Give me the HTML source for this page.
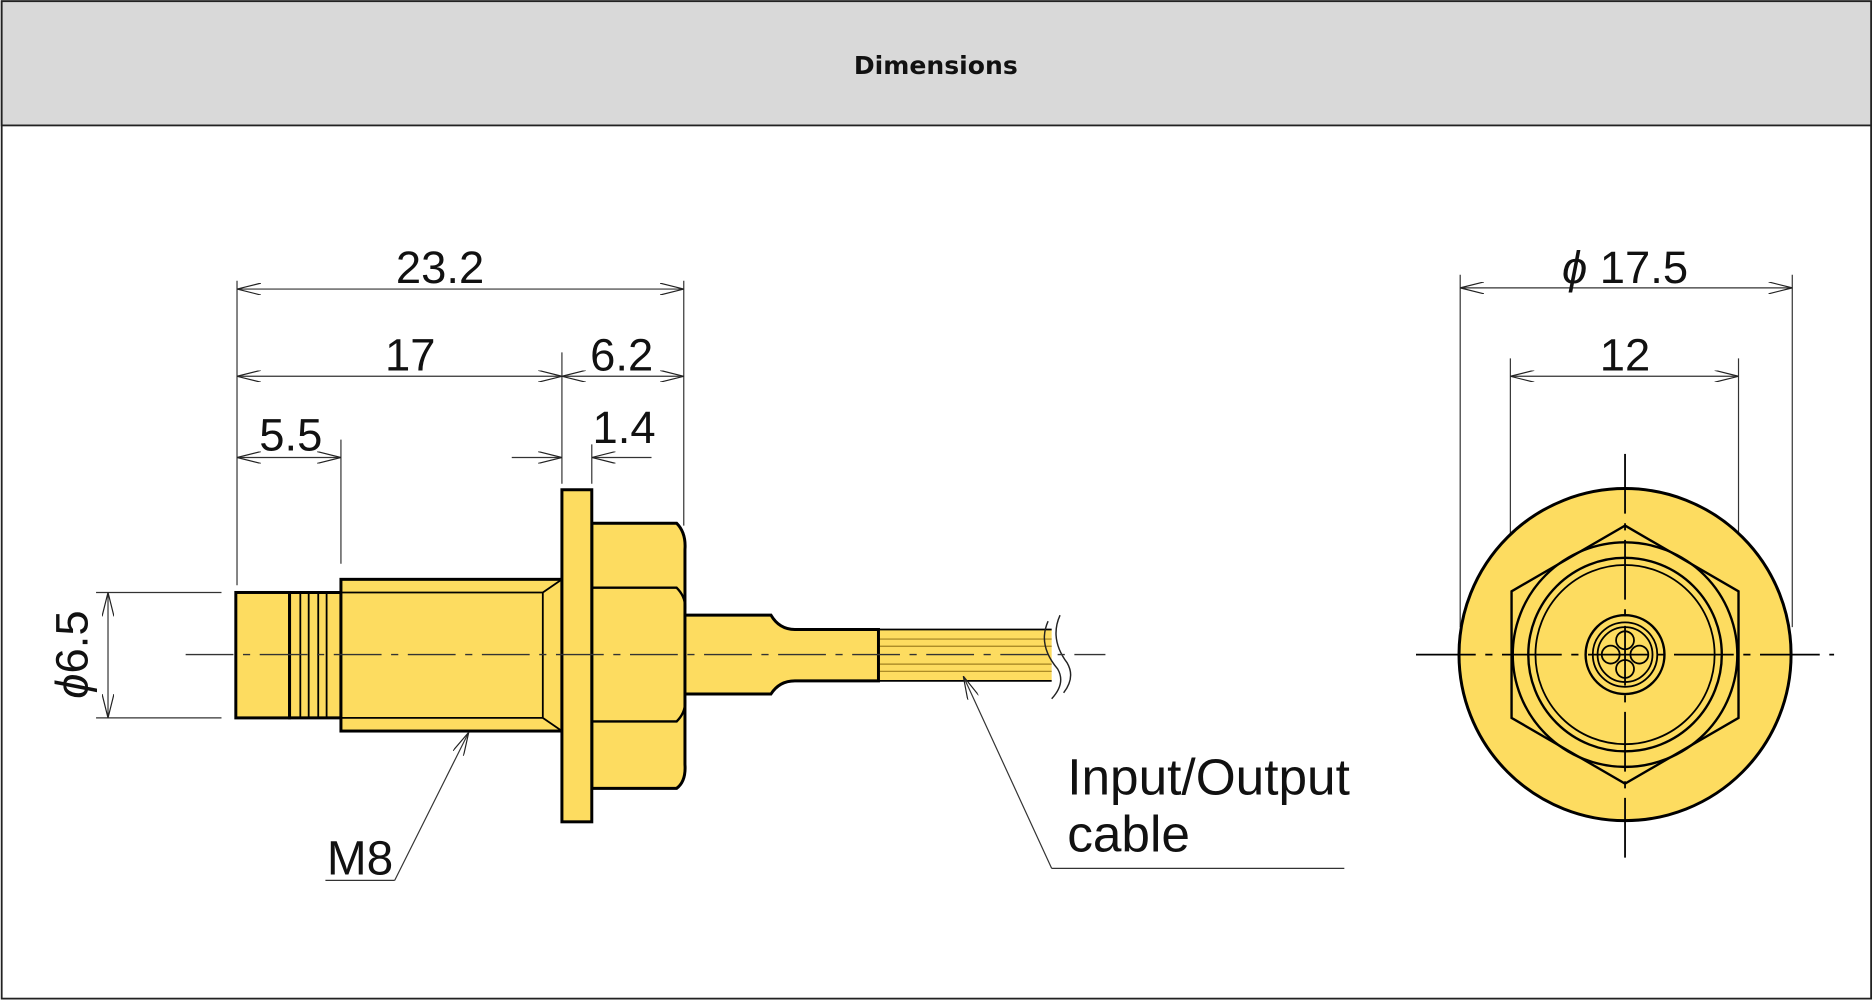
<!DOCTYPE html>
<html><head><meta charset="utf-8"><style>
html,body{margin:0;padding:0;background:#fff}
svg{display:block}
text{font-family:"Liberation Sans",sans-serif;fill:#111}
</style></head><body>
<svg width="1874" height="1001" viewBox="0 0 1568 838" xmlns="http://www.w3.org/2000/svg">
<defs>
<marker id="a" viewBox="0 0 20 10" refX="20" refY="5" markerWidth="20" markerHeight="10" markerUnits="userSpaceOnUse" orient="auto-start-reverse">
<path d="M0,0 L20,5 L0,10" fill="none" stroke="#222" stroke-width="1"/></marker>
</defs>
<rect x="1" y="1" width="1565" height="835" fill="#fff" stroke="#222" stroke-width="1.5"/>
<rect x="1" y="1" width="1565" height="104" fill="#d9d9d9" stroke="#222" stroke-width="1.5"/>
<text x="783" y="62" text-anchor="middle" font-size="21" font-weight="bold" style="font-family:'DejaVu Sans','Liberation Sans',sans-serif">Dimensions</text>

<g stroke="#000" stroke-width="2.5" fill="#fddc60">
<rect x="735" y="527" width="145" height="43" stroke="none"/>
<path d="M735,527 H880 M735,570 H880" stroke-width="1.5"/>
<path d="M735,535 H880 M735,541 H880 M735,556 H880 M735,562 H880" stroke-width="1" stroke="#a08020"/>
<path d="M572,515 H645 Q652,527 665,527 H735 V570 H665 Q652,570 645,581 H572 Z"/>
<rect x="197" y="496" width="45" height="105"/>
<path d="M242,496 H285 V601 H242 Z"/>
<path d="M251,497 V600 M258,497 V600 M266,497 V600 M273,497 V600" stroke-width="1.5"/>
<rect x="285" y="485" width="185" height="127"/>
<path d="M285,496 H454 M285,601 H454 M454,496 V601 M454,496 L470,485 M454,601 L470,612" stroke-width="1.5" fill="none"/>
<path d="M495,438 H566 Q574,446 573,460 V640 Q574,654 566,660 H495 Z"/>
<path d="M495,492 H566 Q574,500 573,510 M495,604 H566 Q574,596 573,586" fill="none" stroke-width="2"/>
<rect x="470" y="410" width="25" height="278"/>
</g>
<path d="M877,520 Q868,540 885,560 Q892,572 880,585 M887,515 Q878,535 893,555 Q900,567 890,580" fill="none" stroke="#222" stroke-width="1.2"/>
<line x1="155" y1="548" x2="925" y2="548" stroke="#333" stroke-width="1.2" stroke-dasharray="40,8,6,8"/>

<g stroke="#333" stroke-width="1" fill="none">
<path d="M198,235 V490 M572,235 V440 M470,295 V405 M285,368 V472 M495,372 V405"/>
<path d="M80,496 H185 M80,601 H185"/>
<line x1="198" y1="242" x2="572" y2="242" marker-start="url(#a)" marker-end="url(#a)"/>
<line x1="198" y1="315" x2="470" y2="315" marker-start="url(#a)" marker-end="url(#a)"/>
<line x1="470" y1="315" x2="572" y2="315" marker-start="url(#a)" marker-end="url(#a)"/>
<line x1="198" y1="383" x2="285" y2="383" marker-start="url(#a)" marker-end="url(#a)"/>
<line x1="428" y1="383" x2="470" y2="383" marker-end="url(#a)"/>
<line x1="545" y1="383" x2="495" y2="383" marker-end="url(#a)"/>
<line x1="90" y1="496" x2="90" y2="601" marker-start="url(#a)" marker-end="url(#a)"/>
<path d="M272,737 H330"/>
<line x1="330" y1="737" x2="392" y2="613" marker-end="url(#a)"/>
<path d="M1125,727 H880"/>
<line x1="880" y1="727" x2="806" y2="566" marker-end="url(#a)"/>
<path d="M1222,230 V525 M1500,230 V525 M1264,300 V490 M1455,300 V490"/>
<line x1="1222" y1="241" x2="1500" y2="241" marker-start="url(#a)" marker-end="url(#a)"/>
<line x1="1264" y1="315" x2="1455" y2="315" marker-start="url(#a)" marker-end="url(#a)"/>
</g>

<g font-size="38">
<text x="368" y="237" text-anchor="middle">23.2</text>
<text x="343" y="310" text-anchor="middle">17</text>
<text x="520" y="310" text-anchor="middle">6.2</text>
<text x="243" y="377" text-anchor="middle">5.5</text>
<text x="522" y="371" text-anchor="middle">1.4</text>
<text transform="translate(73,548) rotate(-90)" text-anchor="middle"><tspan font-style="italic">ϕ</tspan>6.5</text>
<text x="301" y="732" text-anchor="middle" font-size="40">M8</text>
<text x="1360" y="237" text-anchor="middle"><tspan font-style="italic">ϕ</tspan> 17.5</text>
<text x="1360" y="310" text-anchor="middle">12</text>
<text x="893" y="665" font-size="43">Input/Output</text>
<text x="893" y="713" font-size="43">cable</text>
</g>

<g stroke="#000" fill="#fddc60">
<circle cx="1360" cy="548" r="139" stroke-width="2.5"/>
<path d="M1360,440 L1455,495 V601 L1360,656 L1265,601 V495 Z" fill="none" stroke-width="2"/>
<circle cx="1360" cy="548" r="94" fill="none" stroke-width="2"/>
<circle cx="1360" cy="548" r="81" fill="none" stroke-width="2"/>
<circle cx="1360" cy="548" r="75" fill="none" stroke-width="1.5"/>
<circle cx="1360" cy="548" r="33" fill="none" stroke-width="2"/>
<circle cx="1360" cy="548" r="27" fill="none" stroke-width="1.5"/>
<circle cx="1360" cy="548" r="23" fill="none" stroke-width="1.5"/>
<circle cx="1360" cy="536" r="7.5" fill="none" stroke-width="1.5"/>
<circle cx="1360" cy="560" r="7.5" fill="none" stroke-width="1.5"/>
<circle cx="1348" cy="548" r="7.5" fill="none" stroke-width="1.5"/>
<circle cx="1372" cy="548" r="7.5" fill="none" stroke-width="1.5"/>
</g>
<g stroke="#000" stroke-width="1.5">
<line x1="1360" y1="380" x2="1360" y2="720" stroke-dasharray="50,8,6,8"/>
<line x1="1185" y1="548" x2="1535" y2="548" stroke-dasharray="50,8,6,8"/>
</g>
</svg>
</body></html>
